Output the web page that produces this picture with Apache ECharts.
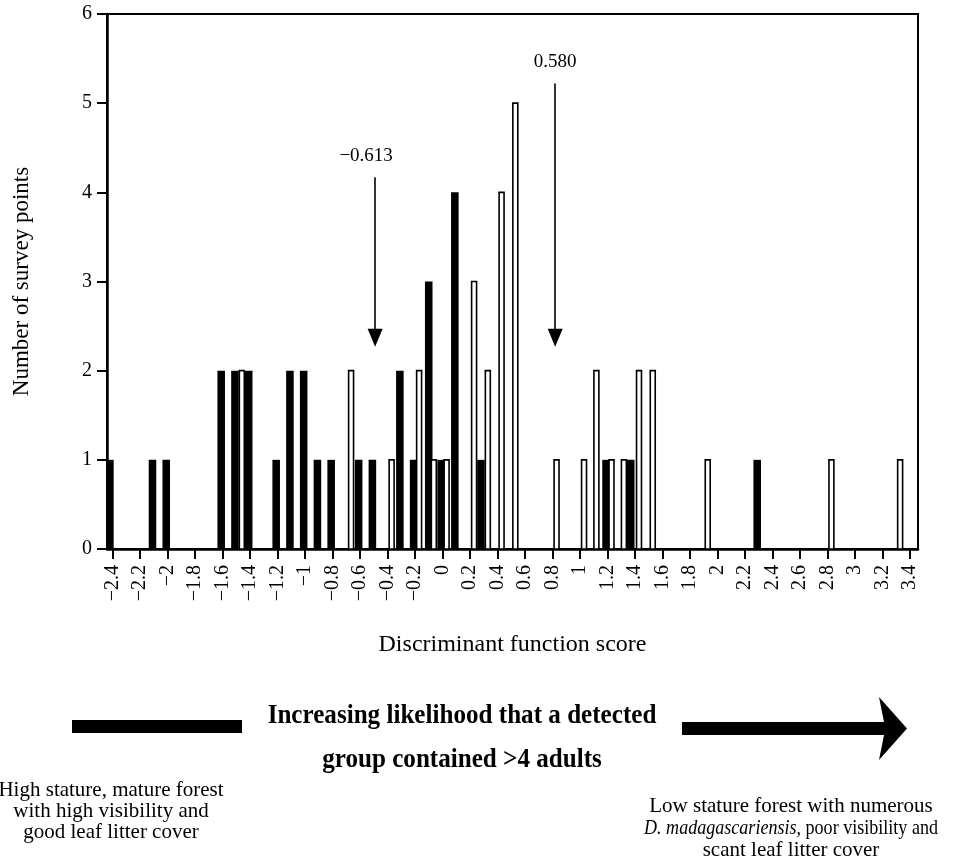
<!DOCTYPE html>
<html>
<head>
<meta charset="utf-8">
<script src="https://cdn.jsdelivr.net/npm/echarts@6/dist/echarts.min.js"></script>
<style>html,body{margin:0;padding:0;background:#fff;}#c{width:965px;height:868px;}</style>
</head>
<body>
<div id="c"></div>
<script>
// ---- data ----
const blackX = [-2.42, -2.11, -2.01, -1.61, -1.51, -1.41, -1.21, -1.11, -1.01, -0.91, -0.81, -0.61, -0.51, -0.31, -0.21, -0.10, -0.01, 0.09, 0.28, 1.19, 1.37, 2.29];
const blackY = [1, 1, 1, 2, 2, 2, 1, 2, 2, 1, 1, 1, 1, 2, 1, 3, 1, 4, 1, 1, 1, 1];
const whiteX = [-1.46, -0.665, -0.37, -0.17, -0.063, 0.03, 0.23, 0.33, 0.43, 0.53, 0.83, 1.03, 1.12, 1.23, 1.32, 1.43, 1.53, 1.93, 2.83, 3.33];
const whiteY = [2, 2, 1, 2, 1, 1, 3, 2, 4, 5, 1, 1, 2, 1, 1, 2, 2, 1, 1, 1];
const xTicks = [-2.4, -2.2, -2, -1.8, -1.6, -1.4, -1.2, -1, -0.8, -0.6, -0.4, -0.2, 0, 0.2, 0.4, 0.6, 0.8, 1, 1.2, 1.4, 1.6, 1.8, 2, 2.2, 2.4, 2.6, 2.8, 3, 3.2, 3.4];
const arrowLabels = ['\u22120.613', '0.580'];
const arrowX = [-0.49, 0.82];
const arrowTop = [4.17, 5.22];
const arrowTip = [2.37, 2.37];

const FONT = '"Liberation Serif", "DejaVu Serif", serif';
const chart = echarts.init(document.getElementById('c'), null, {renderer: 'canvas'});

function barRenderer(fillColor, widthUnits, stroke) {
  return function (params, api) {
    const x = api.value(0), y = api.value(1);
    const p0 = api.coord([x, 0]);
    const p1 = api.coord([x, y]);
    const w = api.size([widthUnits, 0])[0];
    return {
      type: 'rect',
      shape: {x: p0[0] - w / 2, y: p1[1], width: w, height: p0[1] - p1[1]},
      style: stroke ? {fill: fillColor, stroke: '#000', lineWidth: 1.6} : {fill: fillColor}
    };
  };
}

const fmt = v => {
  const r = Math.round(v * 10) / 10;
  return (r < 0 ? '\u2212' : '') + String(Math.abs(r));
};

chart.setOption({
  animation: false,
  backgroundColor: '#fff',
  grid: {left: 107, right: 47, top: 14, bottom: 319, show: true, borderColor: '#000', borderWidth: 2, backgroundColor: 'transparent'},
  xAxis: {
    type: 'value', min: -2.441, max: 3.46,
    name: 'Discriminant function score', nameLocation: 'middle', nameGap: 84,
    nameTextStyle: {fontFamily: FONT, fontSize: 24, color: '#000'},
    axisLine: {show: true, onZero: false, lineStyle: {color: '#000', width: 2.5}},
    axisTick: {show: true, length: 10, lineStyle: {color: '#000', width: 2}, customValues: xTicks},
    axisLabel: {show: true, rotate: 90, margin: 16, fontFamily: FONT, fontSize: 20, color: '#000', customValues: xTicks, formatter: fmt},
    splitLine: {show: false}
  },
  yAxis: {
    type: 'value', min: 0, max: 6, interval: 1,
    name: 'Number of survey points', nameLocation: 'middle', nameGap: 74,
    nameTextStyle: {fontFamily: FONT, fontSize: 23, color: '#000'},
    axisLine: {show: true, onZero: false, lineStyle: {color: '#000', width: 2.5}},
    axisTick: {show: true, length: 10, lineStyle: {color: '#000', width: 2}},
    axisLabel: {margin: 15, fontFamily: FONT, fontSize: 20, color: '#000'},
    splitLine: {show: false}
  },
  series: [
    {
      type: 'custom', name: 'black', clip: true,
      data: blackX.map((x, i) => [x, blackY[i]]),
      encode: {x: 0, y: 1},
      renderItem: barRenderer('#000', 0.055, false)
    },
    {
      type: 'custom', name: 'white', clip: true,
      data: whiteX.map((x, i) => [x, whiteY[i]]),
      encode: {x: 0, y: 1},
      renderItem: barRenderer('#fff', 0.036, true)
    },
    {
      type: 'line', data: [], silent: true,
      markLine: {
        silent: true,
        symbol: ['none', 'triangle'],
        symbolSize: [15, 18],
        lineStyle: {color: '#000', width: 1.6, type: 'solid'},
        label: {show: true, position: 'start', distance: 12, fontFamily: FONT, fontSize: 19, color: '#000'},
        data: arrowX.map((x, i) => [
          {coord: [x, arrowTop[i]], label: {formatter: arrowLabels[i], padding: i === 0 ? [0, 18, 0, 0] : [0, 0, 0, 0]}},
          {coord: [x, arrowTip[i]]}
        ])
      }
    }
  ],
  graphic: [
    {type: 'rect', shape: {x: 72, y: 720, width: 170, height: 13}, style: {fill: '#000'}},
    {type: 'polygon', shape: {points: [[682, 722], [884, 722], [879, 697], [907, 728.5], [879, 760], [884, 735], [682, 735]]}, style: {fill: '#000'}},
    {type: 'text', x: 462, y: 716, scaleX: 0.93, originX: 0, originY: 0,
      style: {text: 'Increasing likelihood that a detected', fontFamily: FONT, fontWeight: 'bold', fontSize: 27, fill: '#000', align: 'center', verticalAlign: 'middle'}},
    {type: 'text', x: 462, y: 760, scaleX: 0.93, originX: 0, originY: 0,
      style: {text: 'group contained >4 adults', fontFamily: FONT, fontWeight: 'bold', fontSize: 27, fill: '#000', align: 'center', verticalAlign: 'middle'}},
    {type: 'text', x: 111, y: 811,
      style: {text: 'High stature, mature forest\nwith high visibility and\ngood leaf litter cover', fontFamily: FONT, fontSize: 21, lineHeight: 21, fill: '#000', align: 'center', verticalAlign: 'middle'}},
    {type: 'text', x: 791, y: 806,
      style: {text: 'Low stature forest with numerous', fontFamily: FONT, fontSize: 21, fill: '#000', align: 'center', verticalAlign: 'middle'}},
    {type: 'text', x: 791, y: 828, scaleX: 0.86, originX: 0, originY: 0,
      style: {
        text: '{i|D. madagascariensis}, poor visibility and', fontFamily: FONT, fontSize: 21, fill: '#000', align: 'center', verticalAlign: 'middle',
        rich: {i: {fontFamily: FONT, fontSize: 21, fontStyle: 'italic', fill: '#000'}}
      }},
    {type: 'text', x: 791, y: 850,
      style: {text: 'scant leaf litter cover', fontFamily: FONT, fontSize: 21, fill: '#000', align: 'center', verticalAlign: 'middle'}}
  ]
});
</script>
</body>
</html>
